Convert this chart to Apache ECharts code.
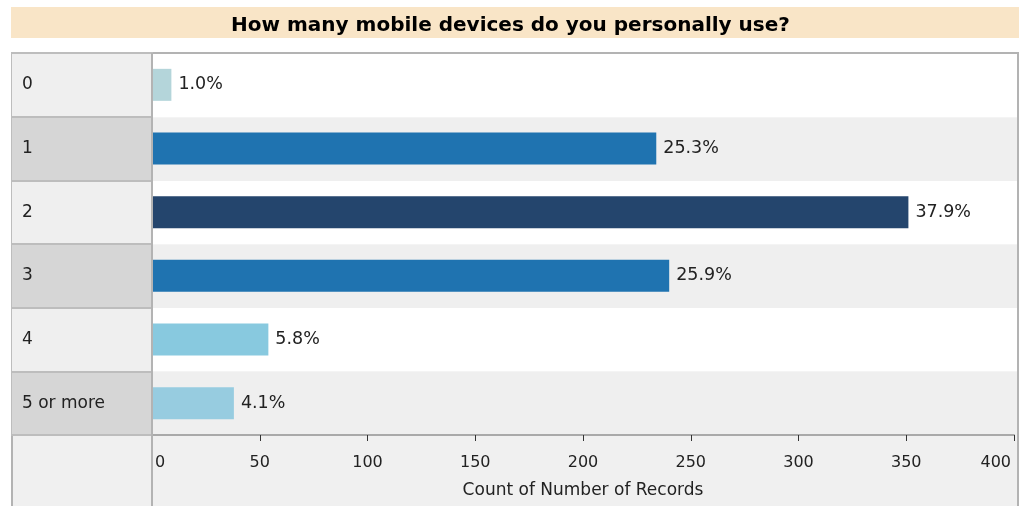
<!DOCTYPE html>
<html>
<head>
<meta charset="utf-8">
<script src="https://cdn.jsdelivr.net/npm/echarts@6/dist/echarts.min.js"></script>
<style>
  html, body { margin: 0; padding: 0; background: #ffffff; }
  #chart { width: 1021px; height: 506px; }
</style>
</head>
<body>
<div id="chart"></div>
<script>
// Survey answers: number of mobile devices each respondent uses
const categories = ['0', '1', '2', '3', '4', '5 or more'];
const counts = [9, 234, 351, 240, 54, 38];
const xTicks = [0, 50, 100, 150, 200, 250, 300, 350, 400];
const titleText = 'How many mobile devices do you personally use?';
const axisTitle = 'Count of Number of Records';

// Bar fill per answer
const barColors = ['#b4d5da', '#1f73b0', '#24456d', '#1f73b0', '#88c9df', '#97cce0'];

const total = counts.reduce((a, b) => a + b, 0);
const FONT = 'DejaVu Sans';
const xMin = xTicks[0];
const xMax = xTicks[xTicks.length - 1];

const chart = echarts.init(document.getElementById('chart'), null, { renderer: 'canvas' });

chart.setOption({
  animation: false,
  backgroundColor: '#ffffff',
  title: {
    text: titleText,
    left: 'center',
    top: 11,
    textStyle: { fontFamily: FONT, fontWeight: 'bold', fontSize: 20, color: '#000000' }
  },
  graphic: [
    // title band
    { type: 'rect', z: -10, shape: { x: 11, y: 7, width: 1008, height: 31 },
      style: { fill: '#f9e5c7' } },
    // outer frame of the table
    { type: 'rect', z: -10, shape: { x: 12, y: 53, width: 1006, height: 470 },
      style: { fill: '#f0f0f0', stroke: '#b3b3b3', lineWidth: 2 } },
    // divider between the label column and the plot
    { type: 'line', z: 10, shape: { x1: 152, y1: 53, x2: 152, y2: 506 },
      style: { stroke: '#b3b3b3', lineWidth: 2 } }
  ],
  grid: [
    // plot with the bars
    { left: 152, right: 7, top: 53, height: 382 },
    // label column
    { left: 12, width: 140, top: 53, height: 382,
      show: true, borderColor: '#bdbdbd', borderWidth: 2, backgroundColor: 'transparent' },
    // row bands behind the plot, running to the frame edge
    { left: 153, right: 4, top: 54, height: 381 }
  ],
  xAxis: [
    {
      gridIndex: 0,
      type: 'value',
      min: xMin,
      max: xMax,
      interval: xTicks[1] - xTicks[0],
      name: axisTitle,
      nameLocation: 'middle',
      nameGap: 47,
      nameTextStyle: { fontFamily: FONT, fontSize: 17, color: '#222222' },
      axisLine: { show: true, lineStyle: { color: '#a9a9a9', width: 2 } },
      axisTick: { show: true, length: 6, lineStyle: { color: '#333333', width: 1 } },
      axisLabel: {
        fontFamily: FONT, fontSize: 16, color: '#222222', margin: 20,
        alignMinLabel: 'left', alignMaxLabel: 'right',
        formatter: v => v === xMin ? '{first|' + v + '}' : (v === xMax ? '{last|' + v + '}' : String(v)),
        rich: {
          first: { fontFamily: FONT, fontSize: 16, color: '#222222', padding: [0, 0, 0, 3] },
          last: { fontFamily: FONT, fontSize: 16, color: '#222222', padding: [0, 3, 0, 0] }
        }
      },
      splitLine: { show: false }
    },
    { gridIndex: 1, type: 'value', show: false, min: 0, max: 1 },
    { gridIndex: 2, type: 'value', show: false, min: 0, max: 1 }
  ],
  yAxis: [
    {
      gridIndex: 0,
      type: 'category',
      data: categories,
      inverse: true,
      axisLine: { show: false },
      axisTick: { show: false },
      axisLabel: { show: false },
      splitLine: { show: false }
    },
    {
      gridIndex: 1,
      type: 'category',
      data: categories,
      inverse: true,
      axisLine: { show: false },
      axisTick: { show: false },
      axisLabel: {
        inside: true, margin: 10, fontFamily: FONT, fontSize: 17, color: '#222222',
        padding: [4, 0, 0, 0]
      },
      splitLine: { show: true, lineStyle: { color: '#bdbdbd', width: 2 } },
      splitArea: { show: true, areaStyle: { color: ['#efefef', '#d6d6d6'] } }
    },
    {
      gridIndex: 2,
      type: 'category',
      data: categories,
      inverse: true,
      axisLine: { show: false },
      axisTick: { show: false },
      axisLabel: { show: false },
      splitLine: { show: false },
      splitArea: { show: true, areaStyle: { color: ['#ffffff', '#efefef'] } }
    }
  ],
  series: [
    {
      type: 'bar',
      xAxisIndex: 0,
      yAxisIndex: 0,
      data: counts,
      barWidth: 32,
      itemStyle: { color: p => barColors[p.dataIndex] },
      label: {
        show: true,
        position: 'right',
        distance: 7,
        fontFamily: FONT,
        fontSize: 17.5,
        color: '#222222',
        padding: [4, 0, 0, 0],
        formatter: p => (p.value / total * 100).toFixed(1) + '%'
      }
    }
  ]
});
</script>
</body>
</html>
